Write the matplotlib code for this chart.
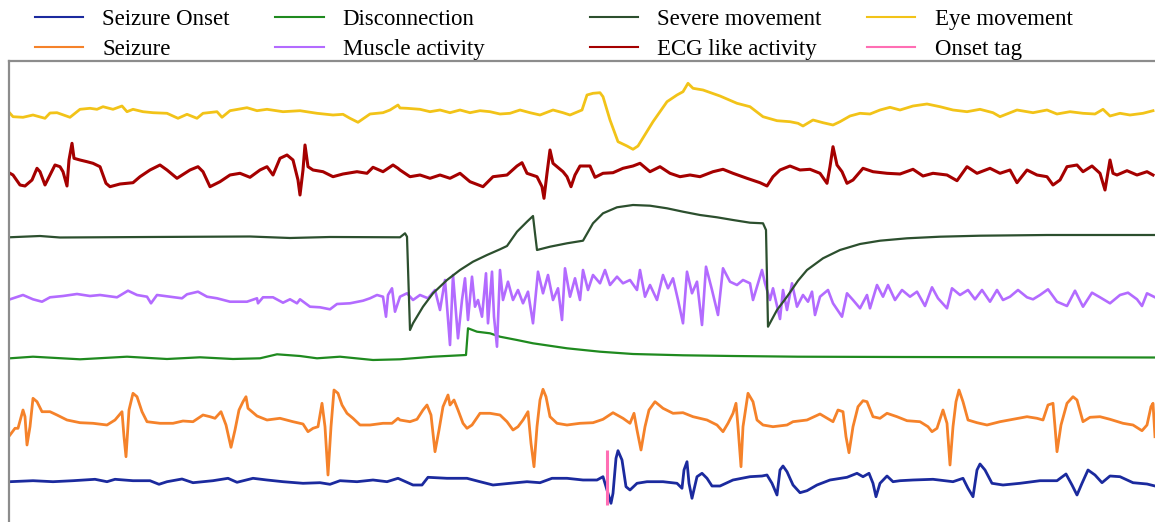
import numpy as np
import matplotlib
matplotlib.use("Agg")
import matplotlib.pyplot as plt
from matplotlib.lines import Line2D

plt.rcParams["font.family"] = ["Liberation Serif", "DejaVu Serif"]

# ---- channel traces: sample index and amplitude (relative to channel baseline) ----
onset_t = [1, 24, 44, 64, 86, 98, 106, 124, 141, 150, 158, 173, 184, 204, 219, 228, 244, 258,
           274, 294, 311, 321, 331, 348, 364, 378, 389, 404, 413, 419, 438, 458, 471, 484, 501,
           518, 531, 543, 558, 574, 588, 594, 598, 602, 604, 607, 609, 613, 617, 621, 628, 638,
           654, 668, 673, 675, 678, 680, 683, 688, 693, 698, 703, 711, 724, 741, 753, 758, 763,
           768, 771, 774, 778, 784, 791, 798, 808, 821, 838, 848, 854, 860, 864, 867, 871, 878,
           884, 891, 904, 924, 944, 954, 959, 964, 968, 971, 976, 983, 994, 1011, 1031, 1048,
           1057, 1063, 1068, 1073, 1079, 1086, 1093, 1101, 1111, 1124, 1138, 1146]
onset_v = [0.3, 1.3, 0.3, 1.3, 2.7, 0.3, 2.7, 1.3, 1.3, -2.3, 0.3, 3, -0.7, 1.3, 3.7, -0.3, 3.7, 2,
           0.3, -1.3, -0.7, -2.3, 1.3, 0.3, 2, 0.3, 3.7, -3, -3, 4.7, 3.7, 3.7, 0.3, -3, -1.3,
           0.3, -0.7, 3.7, 3.7, 2, 2, 5.3, -8, -21.3, -11.3, 23.7, 31.3, 22, -4.7, -8, -1.3, 0.3,
           0.3, -1.3, -6.3, 12, 20.3, -1.3, -16.3, 5.3, 8.7, 3.7, -4, -4, 2, 5.3, 6, 7, -1.3,
           -13, 12, 16, 10.3, -3, -10.7, -8.7, -3, 2, 4.7, 8.7, 5.3, 8.7, -1.3, -14.7, -1.3, 6,
           0.3, 1.3, 2, 2.7, 0.3, 3.7, -6.3, -14.7, 12, 18, 12, -1.3, -3, -1.3, 1.3, 1.3,
           8, -3, -13, -1.3, 12, 7, -0.7, 6, 5.3, -0.7, -2, -4]

seizure_t = [1, 6, 9, 14, 16, 18, 21, 24, 28, 33, 41, 48, 58, 71, 84, 98, 106, 113, 115, 117, 120,
             124, 128, 133, 138, 151, 164, 174, 184, 194, 201, 206, 212, 217, 222, 226, 230, 234,
             237, 239, 248, 258, 271, 284, 294, 299, 304, 309, 313, 316, 319, 322, 325, 329, 333,
             338, 344, 351, 361, 374, 383, 389, 391, 401, 408, 414, 418, 422, 426, 430, 434, 439,
             441, 445, 449, 454, 458, 463, 471, 481, 491, 498, 504, 509, 514, 519, 522, 525, 528,
             531, 534, 537, 541, 548, 558, 571, 584, 594, 604, 614, 621, 625, 628, 632, 636, 640,
             646, 654, 664, 674, 684, 698, 708, 714, 719, 724, 727, 729, 732, 734, 739, 744, 748,
             754, 764, 778, 784, 798, 811, 824, 829, 834, 837, 840, 844, 849, 854, 858, 864, 871,
             878, 888, 898, 911, 919, 923, 928, 934, 938, 941, 944, 947, 950, 954, 959, 968, 978,
             991, 1004, 1018, 1028, 1034, 1039, 1044, 1046, 1048, 1052, 1058, 1064, 1068, 1074,
             1081, 1091, 1101, 1114, 1124, 1133, 1138, 1142, 1144, 1146]
seizure_v = [-14, -7.3, -7.3, 11, 4.3, -24, -5.7, 22.7, 19.3, 9.3, 9.3, 6, 1, -1.7, -2.3, -4, 1,
             9.3, -15.7, -35.7, 11, 27.7, 24.3, 9.3, -0.7, -2.3, -2.3, 0, -0.7, 6, 4.3, 2.7, 9.3,
             -4, -26.3, -9, 11, 19.3, 24.3, 12.7, 5, 1, 2.7, -0.7, -3, -10.7, -7.3, -5.7, 17.7,
             -5.7, -54, -5.7, 31, 27.7, 16, 7.7, 2.7, -4, -4, -2.3, -2.3, 2.7, 1, -0.7, 1.7, 11,
             16, 6, -30.7, -9, 14.3, 26, 16, 21, 11, -2.3, -7.3, -4, 7.7, 7.7, 6, -0.7, -9, -5.7,
             1, 9.3, -22.3, -45.7, -5.7, 21, 31.7, 24.3, 4.3, -2.3, -4, -2.3, -1.7, 1.7, 8.3, 2.7,
             -2.3, 7.7, -9, -29, -5.7, 11, 19.3, 12.7, 7.7, 8.3, 4.3, 1, -4, -10.7, -2.3, 7.7,
             17.7, -5.7, -45.7, -5.7, 27.7, 19.3, 1, -4, -5.7, -4, -0.7, 1, 7, -0.7, 11, 9.3,
             -15.7, -31.7, -5.7, 14.3, 20.3, 19.3, 4.3, 2.7, 7.7, 4.3, 0.3, -0.7, -5.7, -10.7,
             -7.3, 11, -2.3, -44, -5.7, 19.3, 31, 19.3, 1, -1.7, -4, -0.7, 1.7, 4.3, 2.7, 1, 16,
             17.7, -5.7, -30.7, -4, 17.7, 24.3, 21, -0.7, 3.7, 4.3, 1.7, -2.3, -4, -9.7, -4,
             14.3, 17.7, -15.7]

disconnection_t = [1, 24, 71, 118, 158, 191, 224, 251, 268, 291, 308, 331, 364, 391, 424, 457,
                   459, 468, 481, 491, 508, 524, 558, 591, 624, 674, 724, 789, 891, 1146]
disconnection_v = [1.7, 3.3, 0.7, 3.3, 1, 2.7, 1, 1.7, 5.7, 4, 1.7, 3.3, 0, 0.7, 3.3, 5,
                   31.7, 28.3, 26.7, 23.3, 20, 16.7, 11.7, 8.3, 6, 4.7, 4, 3.3, 3, 2.5]

muscle_t = [1, 14, 24, 33, 41, 54, 68, 81, 91, 108, 119, 128, 138, 142, 148, 161, 173, 178, 189,
            198, 208, 221, 238, 248, 249, 254, 264, 274, 281, 288, 291, 301, 311, 321, 328, 341,
            354, 361, 368, 374, 377, 379, 383, 386, 391, 398, 404, 411, 419, 426, 431, 436, 441,
            444, 449, 453, 456, 459, 463, 466, 469, 473, 477, 479, 483, 485, 488, 491, 494, 499,
            504, 509, 514, 519, 524, 529, 534, 539, 544, 549, 553, 556, 561, 566, 571, 574, 579,
            584, 591, 596, 601, 608, 614, 621, 628, 631, 636, 641, 648, 654, 659, 664, 669, 674,
            678, 683, 688, 693, 697, 703, 709, 714, 721, 728, 734, 741, 744, 749, 753, 756, 761,
            764, 771, 774, 778, 783, 788, 794, 799, 803, 806, 811, 819, 824, 833, 838, 844, 851,
            858, 861, 868, 874, 879, 886, 893, 901, 908, 916, 923, 929, 938, 943, 951, 959, 966,
            973, 981, 988, 994, 1001, 1009, 1018, 1024, 1031, 1039, 1048, 1058, 1066, 1074, 1083,
            1091, 1101, 1111, 1119, 1128, 1133, 1138, 1146]
muscle_v = [-0.3, 4, -0.3, -2.7, 1.7, 3, 5, 3, 4, 1.7, 8.3, 4, 2.3, -4.3, 4, 2.3, 0.7, 4.7, 7.3,
            2.3, 0.7, -2.7, -2.7, 0.7, -4.3, 1.7, 1.7, -3.7, -0.3, -4.3, -0.3, -7.7, -8.3, -10.3,
            -5, -4.3, -1.7, 0.7, 4, 2.3, -17.7, 4, 10.7, -12.7, 2.3, 5.7, -1, 4, 0.7, 9, -11,
            19, -46, 24, -39.3, -1, 20.7, -21, 22.3, -7.7, -1, -17.7, 25.7, -24.3, 27.3, -17.7,
            -47.7, 29, -1, 17.3, -1, 9, -4.3, 7.3, -24.3, 27.3, 5.7, 24, -1, 10.7, -21, 30.7,
            2.3, 20.7, -1, 29, 9, 24, 15.7, 29, 14, 22.3, 15.7, 19, 9, 29, 2.3, 14, -1, 24, 10.7,
            20.7, -1, -24.3, 27.3, 5.7, 17.3, -26, 32.3, 9, -16, 30.7, 17.3, 14, 19, 15.7, -1,
            15.7, 29, 15.7, -1, 10.7, -20, 9, -11, 15.7, -7.7, 4, -2.7, 7.3, -16, 2.3, 9, -4.3,
            -17.7, 5.7, -1, -9.3, 4, -9.3, 14, 2.3, 14, -1, 9, 2.3, 7.3, -7, 11.7, 0.7, -9.3,
            10.7, 4, 9, -0.3, 9, -2.7, 9, -1, 2.3, 9, 1.7, -0.3, 4, 9.7, -2.7, -7, 8.3, -7.7,
            6.3, 1.7, -4.3, 4, 6.3, -0.3, -7, 5.7, 1.7]

severe_t = [0, 31, 51, 141, 241, 281, 321, 391, 396, 398, 401, 404, 414, 424, 438, 451, 464, 478,
            491, 498, 508, 518, 524, 526, 528, 541, 558, 574, 584, 594, 608, 624, 641, 658, 674,
            691, 708, 724, 741, 754, 757, 759, 768, 778, 789, 798, 814, 831, 851, 871, 898, 931,
            971, 1038, 1146]
severe_v = [0.7, 2, 0.5, 1, 1.5, 0, 1, 0.7, 4.7, 1.3, -92, -85.3, -68.7, -55.3, -42, -32, -23.7,
            -17, -11.3, -8, 6.3, 16.3, 22, 4.7, -12, -8.7, -5.3, -2.7, 14.7, 24.7, 30.7, 33, 32.3,
            29.7, 26.3, 23, 20.7, 18, 15.3, 14.7, 8, -88.7, -72, -58.7, -42.7, -32, -20.3, -12,
            -6, -2.7, -0.3, 1.3, 2.3, 3, 3]

ecg_t = [1, 4, 11, 16, 23, 28, 31, 36, 41, 46, 51, 54, 58, 60, 63, 65, 71, 78, 84, 91, 97, 101,
         111, 124, 131, 141, 151, 158, 168, 181, 189, 194, 201, 211, 221, 231, 241, 251, 258, 264,
         271, 278, 284, 289, 291, 294, 296, 299, 304, 314, 324, 334, 348, 358, 364, 374, 384, 389,
         391, 401, 411, 421, 431, 441, 451, 461, 474, 484, 498, 508, 513, 518, 528, 533, 535, 538,
         541, 544, 548, 554, 558, 562, 566, 571, 581, 586, 594, 604, 614, 624, 631, 641, 651, 661,
         671, 681, 691, 704, 714, 724, 738, 751, 758, 764, 771, 781, 791, 801, 811, 818, 821, 824,
         828, 833, 838, 844, 854, 864, 878, 891, 904, 914, 924, 938, 948, 958, 968, 981, 991,
         1001, 1008, 1018, 1028, 1038, 1044, 1051, 1058, 1068, 1074, 1083, 1091, 1096, 1101,
         1104, 1108, 1118, 1128, 1138, 1144]
ecg_v = [3.7, 2, -8, -9, -3, 8.7, 5.3, -8, 2, 12, 10.3, 5.3, -9, 17, 33.7, 18.7, 17, 15.3, 13.7,
         10.3, -6.3, -9.7, -7, -5.7, 0.3, 7, 12, 7, -1.3, 7, 10.3, 5.3, -9.7, -4.7, 2, 3.7, -0.3,
         7, 10.3, 2, 18.7, 22, 17, -3, -18, 7, 32, 10.3, 7, 5.3, 0.3, 3, 5.3, 3.7, 9.7, 5.3, 12,
         8.7, 7, 0.3, 2, -1.3, 2, -1.3, 3.7, -4.7, -9.7, 0.3, 2, 11, 14.3, 3.7, 0.3, -9.7, -21.3,
         3.7, 27, 13.7, 10.3, 5.3, 0.3, -9.7, 2, 11, 11, -0.3, 3.7, 4.3, 8.7, 11, 13.7, 5.3,
         10.3, 3.7, 0.3, 2, 0.3, 5.3, 7.7, 3.7, -1.3, -5.7, -9, 0.3, 7, 11, 7, 7.7, 3.7, -6.3,
         10.3, 30.3, 12, 5.3, -6.3, -3, 8.7, 5.3, 3.7, 3, 7.7, 1, 3.7, 2, -3.7, 10.3, 3.7, 8.7,
         3.7, 7, -5.7, 7, 2, 0.3, -8, -3, 10.3, 12, 5.3, 11, 3.7, -13, 17, 3.7, 2, 6.3, 2, 5.3,
         2]

eye_t = [1, 4, 14, 24, 36, 41, 48, 61, 71, 81, 88, 94, 104, 113, 118, 124, 134, 144, 158, 169,
         178, 188, 194, 208, 213, 221, 238, 248, 258, 274, 291, 308, 324, 334, 341, 349, 361, 374,
         381, 389, 391, 398, 411, 421, 431, 441, 451, 461, 471, 481, 491, 501, 511, 521, 531, 544,
         554, 561, 573, 578, 584, 591, 594, 601, 609, 618, 624, 629, 644, 658, 668, 674, 679, 684,
         694, 711, 728, 741, 754, 768, 781, 789, 794, 804, 814, 824, 831, 841, 851, 861, 871, 881,
         891, 904, 918, 931, 944, 958, 971, 984, 991, 1008, 1024, 1038, 1048, 1061, 1074, 1086,
         1094, 1101, 1111, 1121, 1134, 1144]
eye_v = [2.7, -0.7, -1.3, 1, -2.3, 3, 3.3, -1.3, 6.7, 7.7, 6.7, 9.3, 6.7, 10, 4.3, 6.7, 4.3, 3.3,
         2.7, -2.3, 1.7, -2.3, 2.7, 4.3, -1.3, 5.3, 8.3, 5.3, 6.7, 4.3, 5.3, 2.7, 1, 1.7, -2.3,
         -6.3, 2, 3.3, 6, 11, 8, 7.7, 6.7, 4.3, 6, 3.3, 6, 3.3, 5.3, 4.3, 2, 2.7, 6, 3.3, 1, 6,
         3.3, 1, 6, 21, 22.7, 23.3, 19.3, -4, -25.7, -30, -33.3, -30, -5.7, 14.3, 21, 24.3, 32.7,
         27.7, 26, 20, 12.7, 9.3, -0.7, -4.7, -5.7, -7.3, -10, -4, -6.7, -9, -5.7, 0, 2.7, 2, 6,
         8.7, 6, 10, 12, 9.3, 6, 4.3, 6.7, 3.3, -0.7, 6, 3.3, 6, 2, 4.3, 2.7, 2, 6.7, 0, 2.7,
         1, 2.7, 5.3]

# onset marker position and extent on the seizure-onset channel
tag_t = 598
tag_lo, tag_hi = -23, 32

# channel name, data, colour, line width, vertical offset (bottom to top)
channels = [
    ("Seizure Onset", onset_t, onset_v, "#1b2a9e", 2.0, 0),
    ("Seizure", seizure_t, seizure_v, "#f5822a", 2.0, 61),
    ("Disconnection", disconnection_t, disconnection_v, "#1f8a1f", 1.6, 122),
    ("Muscle activity", muscle_t, muscle_v, "#b36bff", 1.9, 183),
    ("Severe movement", severe_t, severe_v, "#2c4f2e", 1.6, 244),
    ("ECG like activity", ecg_t, ecg_v, "#a50000", 2.2, 305),
    ("Eye movement", eye_t, eye_v, "#f2c318", 2.0, 366),
]
tag_color = "#ff6eb4"

W, H = 1155, 522
fig = plt.figure(figsize=(W / 100, H / 100), dpi=100)
ax = fig.add_axes([9 / W, -10 / H, 1151 / W, 471 / H])

for name, t, v, color, lw, off in channels:
    ax.plot(np.asarray(t), np.asarray(v) + off, color=color, lw=lw, label=name,
            solid_joinstyle="round")
ax.vlines(tag_t, tag_lo, tag_hi, color=tag_color, lw=2.2, label="Onset tag")

ax.set_xlim(0, 1151)
ax.set_ylim(-50, 421)
ax.set_xticks([])
ax.set_yticks([])
for side in ("right", "bottom"):
    ax.spines[side].set_visible(False)
for side in ("left", "top"):
    ax.spines[side].set_color("#8c8c8c")
    ax.spines[side].set_linewidth(1.6)

handles = [Line2D([], [], color=c[3], lw=1.5) for c in channels]
labels = [c[0] for c in channels]
handles.append(Line2D([], [], color=tag_color, lw=1.5))
labels.append("Onset tag")

leg_kw = dict(ncol=2, frameon=False, fontsize=16.5, handlelength=2.1, handletextpad=0.83,
              columnspacing=2.0, labelspacing=0.38, borderpad=0, borderaxespad=0,
              loc="upper left")
# left block: Seizure Onset, Seizure | Disconnection, Muscle activity
leg1 = fig.legend(handles[0:4], labels[0:4], bbox_to_anchor=(35 / W, 1 - 9 / H), **leg_kw)
# right block: Severe movement, ECG like activity | Eye movement, Onset tag
leg2 = fig.legend(handles[4:8], labels[4:8], bbox_to_anchor=(590 / W, 1 - 9 / H), **leg_kw)

fig.savefig("out.png", dpi=100)
